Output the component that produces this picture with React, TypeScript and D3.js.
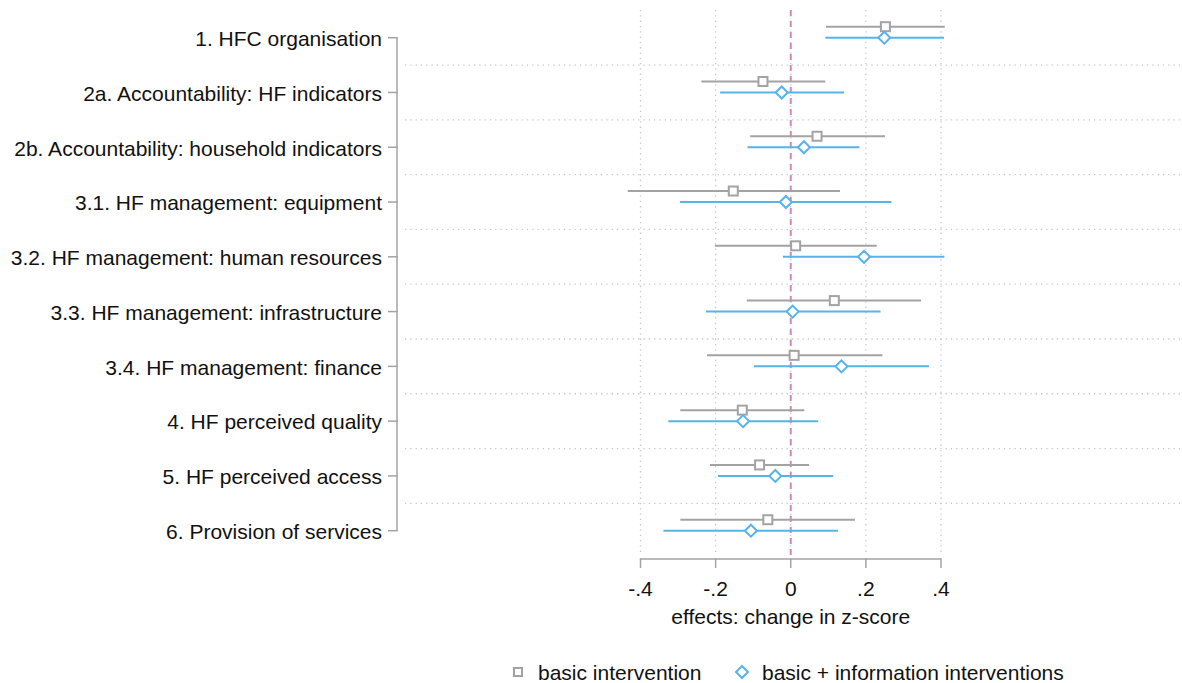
import React, { useEffect, useRef } from 'react';
import * as d3 from 'd3';

// outcome labels, top to bottom
const categories = [
    "1. HFC organisation",
    "2a. Accountability: HF indicators",
    "2b. Accountability: household indicators",
    "3.1. HF management: equipment",
    "3.2. HF management: human resources",
    "3.3. HF management: infrastructure",
    "3.4. HF management: finance",
    "4. HF perceived quality",
    "5. HF perceived access",
    "6. Provision of services",
];

// basic intervention: estimate, lower, upper
const basicEst = [0.252, -0.074, 0.070, -0.153, 0.013, 0.116, 0.009, -0.129, -0.083, -0.061];
const basicLo = [0.094, -0.238, -0.108, -0.434, -0.202, -0.117, -0.223, -0.294, -0.215, -0.294];
const basicHi = [0.410, 0.092, 0.251, 0.131, 0.229, 0.347, 0.244, 0.036, 0.049, 0.171];

// basic + information interventions
const infoEst = [0.249, -0.024, 0.035, -0.013, 0.195, 0.005, 0.135, -0.127, -0.041, -0.106];
const infoLo = [0.092, -0.188, -0.115, -0.295, -0.021, -0.226, -0.098, -0.326, -0.194, -0.339];
const infoHi = [0.408, 0.142, 0.183, 0.268, 0.409, 0.239, 0.368, 0.073, 0.113, 0.126];

const xTicks = [-0.4, -0.2, 0, 0.2, 0.4];
const xTickLabels = ["-.4", "-.2", "0", ".2", ".4"];

const GRAY = "#a3a3a3";
const BLUE = "#56b4e9";
const FONT = "Liberation Sans, Arial, sans-serif";

export default function App() {
    const ref = useRef<SVGSVGElement>(null);

    useEffect(() => {
        const svg = d3.select(ref.current);
        svg.selectAll("*").remove();

        const width = 1182;
        const height = 683;
        const plotTop = 10;
        const plotBottom = 555;
        const plotLeft = 405;

        const x = d3.scaleLinear().domain([-0.4, 0.4]).range([640.5, 941]);
        const y = d3.scalePoint<string>().domain(categories).range([37.7, 530.7]);
        const step = y.step();
        const offset = 11;

        svg.attr("width", width).attr("height", height);

        // horizontal dotted grid between categories
        svg.append("g")
            .selectAll("line")
            .data(categories.slice(0, -1))
            .enter()
            .append("line")
            .attr("x1", plotLeft)
            .attr("x2", width)
            .attr("y1", d => (y(d) as number) + step / 2)
            .attr("y2", d => (y(d) as number) + step / 2)
            .attr("stroke", "#c8c8c8")
            .attr("stroke-width", 1.3)
            .attr("stroke-dasharray", "1.3 4");

        // vertical dotted grid at ticks
        svg.append("g")
            .selectAll("line")
            .data(xTicks)
            .enter()
            .append("line")
            .attr("x1", d => x(d))
            .attr("x2", d => x(d))
            .attr("y1", plotTop)
            .attr("y2", plotBottom)
            .attr("stroke", "#c8c8c8")
            .attr("stroke-width", 1.3)
            .attr("stroke-dasharray", "1.3 4");

        // zero reference line
        svg.append("line")
            .attr("x1", x(0))
            .attr("x2", x(0))
            .attr("y1", plotTop)
            .attr("y2", plotBottom)
            .attr("stroke", "#d28ab4")
            .attr("stroke-width", 2)
            .attr("stroke-dasharray", "6 5");

        // y axis
        const yAxis = svg.append("g");
        yAxis.append("line")
            .attr("x1", 397).attr("x2", 397)
            .attr("y1", y(categories[0]) as number)
            .attr("y2", y(categories[categories.length - 1]) as number)
            .attr("stroke", GRAY).attr("stroke-width", 1.5);
        categories.forEach(c => {
            const yy = y(c) as number;
            yAxis.append("line")
                .attr("x1", 388).attr("x2", 397.7)
                .attr("y1", yy).attr("y2", yy)
                .attr("stroke", GRAY).attr("stroke-width", 1.5);
            yAxis.append("text")
                .attr("x", 382)
                .attr("y", yy + 1)
                .attr("dy", "0.35em")
                .attr("text-anchor", "end")
                .attr("font-family", FONT)
                .attr("font-size", 21)
                .attr("fill", "#111")
                .text(c);
        });

        // x axis
        const xAxis = svg.append("g");
        xAxis.append("line")
            .attr("x1", x(-0.4)).attr("x2", x(0.4))
            .attr("y1", 559).attr("y2", 559)
            .attr("stroke", GRAY).attr("stroke-width", 1.5);
        xTicks.forEach((t, i) => {
            xAxis.append("line")
                .attr("x1", x(t)).attr("x2", x(t))
                .attr("y1", 558.3).attr("y2", 568)
                .attr("stroke", GRAY).attr("stroke-width", 1.5);
            xAxis.append("text")
                .attr("x", x(t))
                .attr("y", 596)
                .attr("text-anchor", "middle")
                .attr("font-family", FONT)
                .attr("font-size", 21)
                .attr("fill", "#111")
                .text(xTickLabels[i]);
        });
        xAxis.append("text")
            .attr("x", x(0))
            .attr("y", 624)
            .attr("text-anchor", "middle")
            .attr("font-family", FONT)
            .attr("font-size", 21)
            .attr("fill", "#111")
            .text("effects: change in z-score");

        // series
        const series = [
            { est: basicEst, lo: basicLo, hi: basicHi, color: GRAY, dy: -offset, shape: "square" },
            { est: infoEst, lo: infoLo, hi: infoHi, color: BLUE, dy: 0, shape: "diamond" },
        ];

        series.forEach(s => {
            const g = svg.append("g");
            categories.forEach((c, i) => {
                const yy = (y(c) as number) + s.dy;
                g.append("line")
                    .attr("x1", x(s.lo[i])).attr("x2", x(s.hi[i]))
                    .attr("y1", yy).attr("y2", yy)
                    .attr("stroke", s.color).attr("stroke-width", 2);
                if (s.shape === "square") {
                    g.append("rect")
                        .attr("x", x(s.est[i]) - 4.5)
                        .attr("y", yy - 4.5)
                        .attr("width", 9).attr("height", 9)
                        .attr("fill", "white")
                        .attr("stroke", s.color).attr("stroke-width", 2);
                } else {
                    const cx = x(s.est[i]);
                    const r = 6;
                    g.append("path")
                        .attr("d", `M${cx},${yy - r}L${cx + r},${yy}L${cx},${yy + r}L${cx - r},${yy}Z`)
                        .attr("fill", "white")
                        .attr("stroke", s.color).attr("stroke-width", 2);
                }
            });
        });

        // legend
        const legend = svg.append("g");
        legend.append("rect")
            .attr("x", 514).attr("y", 668)
            .attr("width", 8).attr("height", 8)
            .attr("fill", "white").attr("stroke", GRAY).attr("stroke-width", 2);
        legend.append("text")
            .attr("x", 538).attr("y", 673).attr("dy", "0.35em")
            .attr("font-family", FONT).attr("font-size", 21).attr("fill", "#111")
            .text("basic intervention");
        const lx = 742, ly = 672, lr = 6;
        legend.append("path")
            .attr("d", `M${lx},${ly - lr}L${lx + lr},${ly}L${lx},${ly + lr}L${lx - lr},${ly}Z`)
            .attr("fill", "white").attr("stroke", BLUE).attr("stroke-width", 2);
        legend.append("text")
            .attr("x", 762).attr("y", 673).attr("dy", "0.35em")
            .attr("font-family", FONT).attr("font-size", 21).attr("fill", "#111")
            .text("basic + information interventions");
    }, []);

    return (
        <div style={{ position: "absolute", left: 0, top: 0 }}>
            <svg ref={ref} style={{ display: "block", background: "white" }}></svg>
        </div>
    );
}
